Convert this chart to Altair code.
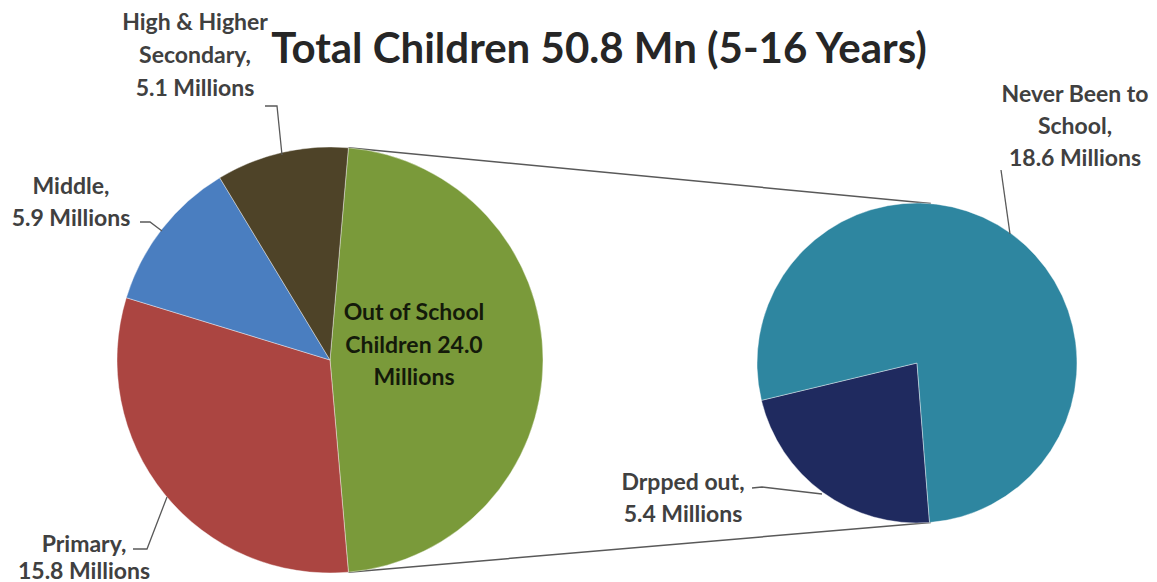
import math
import altair as alt
import pandas as pd

# ---------------- data ----------------
main_cats = ["Out of School Children", "Primary", "Middle", "High & Higher Secondary"]
main_vals = [24.0, 15.8, 5.9, 5.1]
main_colors = ["#7A9A3A", "#AB4541", "#4A7EC0", "#4E4328"]

split_cats = ["Drpped out", "Never Been to School"]
split_vals = [5.4, 18.6]
split_colors = ["#1F2A5F", "#2E86A0"]

main_labels = [
    "Out of School\nChildren {:.1f}\nMillions",
    "Primary,\n{:.1f} Millions",
    "Middle,\n{:.1f} Millions",
    "High & Higher\nSecondary,\n{:.1f} Millions",
]
split_labels = [
    "Drpped out,\n{:.1f} Millions",
    "Never Been to\nSchool,\n{:.1f} Millions",
]
title_text = "Total Children {:.1f} Mn (5-16 Years)".format(sum(main_vals))

# ---------------- layout ----------------
W, H = 1141, 574
CX1, CY1, R1 = 322, 352, 213
CX2, CY2, R2 = 909, 355, 160
FONT = "Lato"

# label block: (x center, y of first line, line height)
main_label_pos = [(406, 305, 32.5), (76, 537, 27), (63, 179, 32), (187, 15, 33)]
split_label_pos = [(675, 475, 32), (1067, 87, 32)]

leaders = [
    [(257, 98), (269, 98), (274, 147)],
    [(132, 214), (142, 214), (154, 223)],
    [(125, 541), (139, 541), (159, 489)],
    [(993, 162), (1002, 226)],
    [(744, 480), (754, 479), (814, 486)],
]

# ---------------- pies ----------------
total_main = sum(main_vals)
half_green = math.pi * main_vals[0] / total_main
a0 = math.pi / 2 - half_green  # start angle so the split slice faces the second pie

df_main = pd.DataFrame({"cat": main_cats, "val": main_vals, "ord": list(range(len(main_cats)))})
main_pie = alt.Chart(df_main).mark_arc(radius=R1, stroke="white", strokeWidth=0.4).encode(
    x=alt.value(CX1),
    y=alt.value(CY1),
    theta=alt.Theta("val:Q", stack=True,
                    scale=alt.Scale(range=[a0, a0 + 2 * math.pi], zero=True, nice=False)),
    order=alt.Order("ord:Q"),
    color=alt.Color("cat:N", scale=alt.Scale(domain=main_cats, range=main_colors), legend=None),
)

b0 = math.radians(175.5)
df_split = pd.DataFrame({"cat2": split_cats, "val2": split_vals, "ord2": list(range(len(split_cats)))})
split_pie = alt.Chart(df_split).mark_arc(radius=R2, stroke="white", strokeWidth=0.4).encode(
    x=alt.value(CX2),
    y=alt.value(CY2),
    theta=alt.Theta("val2:Q", stack=True,
                    scale=alt.Scale(range=[b0, b0 + 2 * math.pi], zero=True, nice=False)),
    order=alt.Order("ord2:Q"),
    color=alt.Color("cat2:N", scale=alt.Scale(domain=split_cats, range=split_colors), legend=None),
)

# ---------------- connector lines ----------------
a_top = a0
a_bot = a0 + 2 * half_green
conn = pd.DataFrame({
    "x": [CX1 + R1 * math.sin(a_top), CX1 + R1 * math.sin(a_bot)],
    "y": [CY1 - R1 * math.cos(a_top), CY1 - R1 * math.cos(a_bot)],
    "x2": [CX2 + R2 * math.sin(a_top), CX2 + R2 * math.sin(a_bot)],
    "y2": [CY2 - R2 * math.cos(a_top), CY2 - R2 * math.cos(a_bot)],
})
connectors = alt.Chart(conn).mark_rule(color="#595959", strokeWidth=1.5).encode(
    x=alt.X("x:Q", scale=None, axis=None),
    y=alt.Y("y:Q", scale=None, axis=None),
    x2="x2:Q",
    y2="y2:Q",
)

# ---------------- leader lines ----------------
rows = []
for i, pts in enumerate(leaders):
    for j, (px, py) in enumerate(pts):
        rows.append({"id": i, "k": j, "lx": px, "ly": py})
leader_layer = alt.Chart(pd.DataFrame(rows)).mark_line(color="#595959", strokeWidth=1.3).encode(
    x=alt.X("lx:Q", scale=None, axis=None),
    y=alt.Y("ly:Q", scale=None, axis=None),
    detail="id:N",
    order="k:Q",
)

# ---------------- labels ----------------
trows = []
def add_label(fmt, v, pos, col):
    px, py, lh = pos
    for k, line in enumerate(fmt.format(v).split("\n")):
        trows.append({"tx": px, "ty": py + k * lh, "txt": line, "col": col})

for fmt, v, pos, c in zip(main_labels, main_vals, main_label_pos,
                          ["#141a0a", "#404040", "#404040", "#404040"]):
    add_label(fmt, v, pos, c)
for fmt, v, pos in zip(split_labels, split_vals, split_label_pos):
    add_label(fmt, v, pos, "#404040")

labels = alt.Chart(pd.DataFrame(trows)).mark_text(
    font=FONT, fontSize=23, fontWeight="bold",
    align="center", baseline="middle",
).encode(
    x=alt.X("tx:Q", scale=None, axis=None),
    y=alt.Y("ty:Q", scale=None, axis=None),
    text="txt:N",
    color=alt.Color("col:N", scale=None, legend=None),
)

title = alt.Chart(pd.DataFrame({"t": [title_text]})).mark_text(
    font=FONT, fontSize=42, fontWeight="bold", color="#262626",
    align="center", baseline="alphabetic",
).encode(x=alt.value(591), y=alt.value(55), text="t:N")

chart = alt.layer(connectors, main_pie, split_pie, leader_layer, labels, title).resolve_scale(
    theta="independent", color="independent"
).properties(width=W, height=H, padding=0, autosize="none").configure_view(stroke=None)

chart.save("out.html", embed_options={"renderer": "svg", "actions": False})
